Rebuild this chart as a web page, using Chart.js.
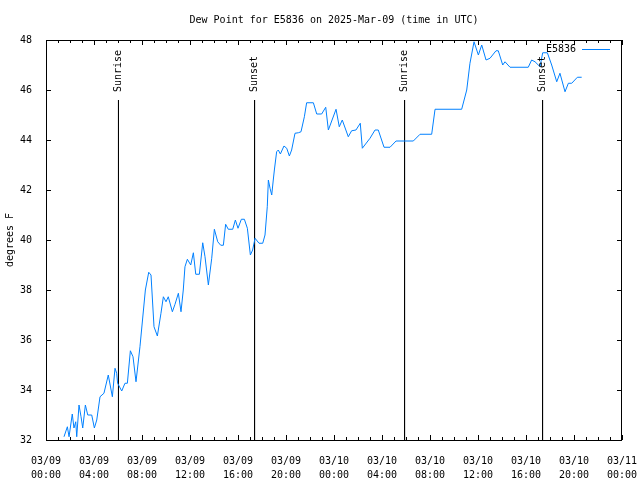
<!DOCTYPE html>
<html>
<head>
<meta charset="utf-8">
<title>Dew Point for E5836</title>
<script src="https://cdn.jsdelivr.net/npm/chart.js@4.4.1/dist/chart.umd.min.js"></script>
<style>
  html, body { margin: 0; padding: 0; background: #fff; }
  #wrap { width: 640px; height: 480px; }
</style>
</head>
<body>
<div id="wrap"><canvas id="dewChart" width="640" height="480"></canvas></div>
<script>
// hours since 2025-03-09 00:00 UTC
const hours = [
  1.5, 1.78, 1.92, 2.19, 2.33, 2.48, 2.56, 2.75, 2.92, 3.06,
  3.28, 3.48, 3.81, 4.03, 4.23, 4.5, 4.83, 5.19, 5.53, 5.75,
  5.89, 5.97, 6.31, 6.58, 6.78, 7.03, 7.25, 7.5, 7.83, 8.28,
  8.56, 8.75, 9.0, 9.28, 9.58, 9.78, 10.0, 10.19, 10.53, 10.75,
  11.03, 11.25, 11.44, 11.58, 11.78, 12.06, 12.28, 12.48, 12.78, 13.06,
  13.25, 13.53, 13.81, 14.03, 14.31, 14.56, 14.78, 14.97, 15.19, 15.56,
  15.78, 16.0, 16.28, 16.53, 16.78, 17.03, 17.22, 17.42, 17.75, 18.06,
  18.25, 18.44, 18.53, 18.67, 18.81, 18.94, 19.03, 19.22, 19.36, 19.53,
  19.83, 20.06, 20.28, 20.47, 20.75, 21.03, 21.25, 21.53, 21.72, 22.28,
  22.56, 22.97, 23.31, 23.53, 24.17, 24.44, 24.69, 25.19, 25.47, 25.83,
  26.19, 26.36, 27.0, 27.42, 27.69, 28.17, 28.67, 29.17, 30.61, 31.17,
  32.14, 32.42, 34.64, 35.06, 35.33, 35.67, 36.03, 36.31, 36.67, 37.0,
  37.5, 37.69, 38.06, 38.25, 38.67, 40.19, 40.47, 40.75, 41.17, 41.39,
  41.78, 42.14, 42.56, 42.83, 43.25, 43.53, 43.81, 44.28, 44.64
];
const dewPoint = [
  32.13, 32.53, 32.13, 33.04, 32.48, 32.73, 32.13, 33.4, 32.93, 32.48,
  33.4, 33.0, 33.0, 32.48, 32.8, 33.73, 33.87, 34.6, 33.73, 34.87,
  34.67, 34.27, 33.96, 34.27, 34.27, 35.57, 35.33, 34.33, 35.73, 38.0,
  38.71, 38.6, 36.53, 36.16, 37.07, 37.73, 37.53, 37.73, 37.13, 37.43,
  37.87, 37.13, 38.0, 38.93, 39.23, 39.0, 39.49, 38.63, 38.63, 39.89,
  39.33, 38.2, 39.27, 40.43, 39.93, 39.79, 39.79, 40.63, 40.43, 40.43,
  40.8, 40.47, 40.83, 40.83, 40.47, 39.4, 39.6, 40.07, 39.87, 39.87,
  40.2, 41.33, 42.4, 42.07, 41.8, 42.4, 42.8, 43.53, 43.6, 43.44,
  43.76, 43.67, 43.36, 43.6, 44.27, 44.29, 44.33, 44.93, 45.49, 45.49,
  45.04, 45.04, 45.31, 44.4, 45.23, 44.53, 44.8, 44.13, 44.37, 44.4,
  44.67, 43.67, 44.07, 44.4, 44.4, 43.71, 43.71, 43.96, 43.96, 44.23,
  44.23, 45.23, 45.23, 46.0, 47.07, 47.93, 47.4, 47.8, 47.2, 47.27,
  47.57, 47.57, 47.0, 47.13, 46.91, 46.91, 47.2, 47.13, 46.93, 47.49,
  47.49, 47.0, 46.33, 46.67, 45.93, 46.27, 46.27, 46.51, 46.51
];

const sunTimes = [6.04, 17.38, 29.88, 41.38];
const sunLabels = ['Sunrise', 'Sunset', 'Sunrise', 'Sunset'];
const sunLineTop = 45.6;

const xTickLabels = [
  ['03/09', '00:00'], ['03/09', '04:00'], ['03/09', '08:00'], ['03/09', '12:00'],
  ['03/09', '16:00'], ['03/09', '20:00'], ['03/10', '00:00'], ['03/10', '04:00'],
  ['03/10', '08:00'], ['03/10', '12:00'], ['03/10', '16:00'], ['03/10', '20:00'],
  ['03/11', '00:00']
];
const yTicks = [32, 34, 36, 38, 40, 42, 44, 46, 48];

const stationName = 'E5836';
const lineColor = 'rgb(0,128,255)';
const monoFont = "'DejaVu Sans Mono', 'Liberation Mono', monospace";

Chart.defaults.font.family = monoFont;
Chart.defaults.font.size = 10;
Chart.defaults.color = '#000';

const dewData = hours.map((h, i) => ({ x: h, y: dewPoint[i] }));

const sunDatasets = sunTimes.map((t, i) => ({
    label: sunLabels[i],
    data: [{ x: t, y: sunLineTop }, { x: t, y: 32 }],
    borderColor: '#000',
    borderWidth: 1,
    pointRadius: 0,
    fill: false
}));

// gnuplot-ish frame, inward ticks, sun labels and key
const framePlugin = {
    id: 'frame',
    afterDraw(chart) {
        const ctx = chart.ctx;
        const a = chart.chartArea;
        const xs = chart.scales.x;
        const ys = chart.scales.y;
        ctx.save();
        ctx.strokeStyle = '#000';
        ctx.lineWidth = 1;
        ctx.beginPath();
        for (let h = 0; h <= 48; h++) {
            const px = Math.round(xs.getPixelForValue(h)) + 0.5;
            const len = h % 4 === 0 ? 5 : 3;
            ctx.moveTo(px, a.bottom);
            ctx.lineTo(px, a.bottom - len);
            ctx.moveTo(px, a.top);
            ctx.lineTo(px, a.top + len);
        }
        yTicks.forEach(v => {
            const py = Math.round(ys.getPixelForValue(v)) + 0.5;
            ctx.moveTo(a.left, py);
            ctx.lineTo(a.left + 5, py);
            ctx.moveTo(a.right, py);
            ctx.lineTo(a.right - 5, py);
        });
        ctx.stroke();
        ctx.strokeRect(a.left + 0.5, a.top + 0.5, a.right - a.left - 1, a.bottom - a.top);

        // sunrise / sunset labels
        ctx.fillStyle = '#000';
        ctx.font = '10px ' + monoFont;
        ctx.textAlign = 'left';
        ctx.textBaseline = 'middle';
        sunTimes.forEach((t, i) => {
            const px = xs.getPixelForValue(t);
            const py = ys.getPixelForValue(sunLineTop) - 8;
            ctx.save();
            ctx.translate(px, py);
            ctx.rotate(-Math.PI / 2);
            ctx.fillText(sunLabels[i], 0, 0);
            ctx.restore();
        });

        // key
        ctx.textAlign = 'right';
        ctx.fillText(stationName, a.right - 46, a.top + 9);
        ctx.strokeStyle = lineColor;
        ctx.beginPath();
        ctx.moveTo(a.right - 40, a.top + 9.5);
        ctx.lineTo(a.right - 12, a.top + 9.5);
        ctx.stroke();
        ctx.restore();
    }
};

new Chart(document.getElementById('dewChart').getContext('2d'), {
    type: 'line',
    data: {
        datasets: [
            {
                label: stationName,
                data: dewData,
                borderColor: lineColor,
                borderWidth: 1,
                pointRadius: 0,
                tension: 0,
                fill: false
            },
            ...sunDatasets
        ]
    },
    options: {
        responsive: false,
        animation: false,
        layout: { padding: { left: 0, right: 18, top: 0, bottom: 0 } },
        plugins: {
            legend: { display: false },
            tooltip: { enabled: false },
            title: {
                display: true,
                fullSize: false,
                text: 'Dew Point for E5836 on 2025-Mar-09 (time in UTC)',
                color: '#000',
                font: { size: 10, weight: 'normal', family: monoFont, lineHeight: 1.2 },
                padding: { top: 14, bottom: 14 }
            }
        },
        scales: {
            x: {
                type: 'linear',
                min: 0,
                max: 48,
                afterFit(scale) {
                    scale.height = 40;
                    scale.paddingLeft = 0;
                    scale.paddingRight = 0;
                },
                grid: { display: false },
                border: { display: false },
                ticks: {
                    stepSize: 4,
                    autoSkip: false,
                    maxRotation: 0,
                    padding: 6,
                    font: { size: 10, lineHeight: 1.4 },
                    callback: (v) => xTickLabels[Math.round(v / 4)]
                }
            },
            y: {
                min: 32,
                max: 48,
                afterFit(scale) { scale.width = 46; },
                grid: { display: false },
                border: { display: false },
                ticks: {
                    stepSize: 2,
                    padding: 6,
                    font: { size: 10 }
                },
                title: {
                    display: true,
                    text: 'degrees F',
                    font: { size: 10, lineHeight: 1.2 },
                    padding: { top: 4, bottom: 0 }
                }
            }
        }
    },
    plugins: [framePlugin]
});
</script>
</body>
</html>
